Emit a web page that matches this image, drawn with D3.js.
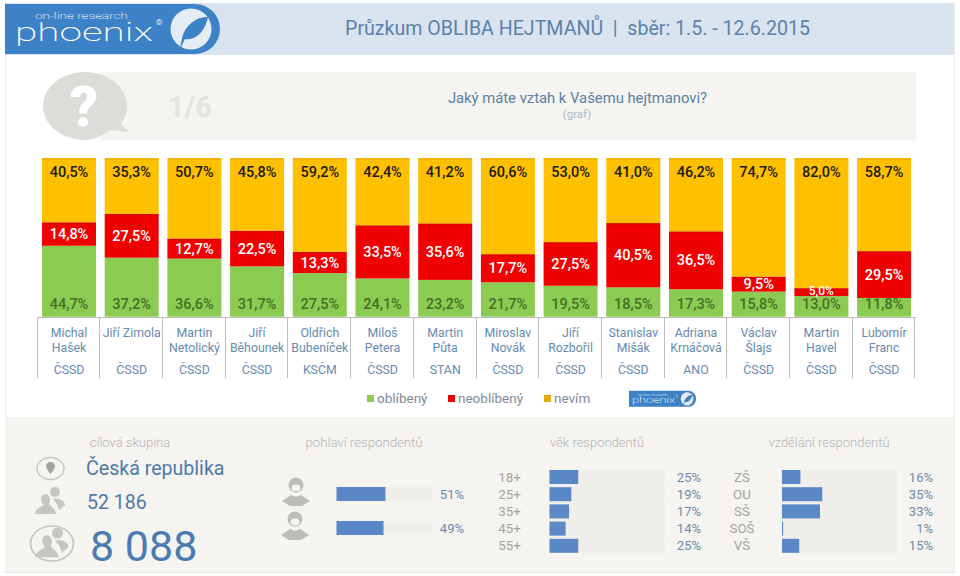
<!DOCTYPE html>
<html><head><meta charset="utf-8">
<script src="https://cdn.jsdelivr.net/npm/d3@7/dist/d3.min.js"></script>
<style>html,body{margin:0;padding:0;background:#fff}svg{display:block}text{font-family:Roboto,sans-serif}</style>
</head><body><svg id="c" width="960" height="576"></svg>
<script>
const names=[["Michal","Hašek"],["Jiří Zimola"],["Martin","Netolický"],["Jiří","Běhounek"],["Oldřich","Bubeníček"],["Miloš","Petera"],["Martin","Půta"],["Miroslav","Novák"],["Jiří","Rozbořil"],["Stanislav","Mišák"],["Adriana","Krnáčová"],["Václav","Šlajs"],["Martin","Havel"],["Lubomír","Franc"]];
const parties=["ČSSD","ČSSD","ČSSD","ČSSD","KSČM","ČSSD","STAN","ČSSD","ČSSD","ČSSD","ANO","ČSSD","ČSSD","ČSSD"];
const liked=[44.7,37.2,36.6,31.7,27.5,24.1,23.2,21.7,19.5,18.5,17.3,15.8,13.0,11.8];
const disliked=[14.8,27.5,12.7,22.5,13.3,33.5,35.6,17.7,27.5,40.5,36.5,9.5,5.0,29.5];
const unknown=[40.5,35.3,50.7,45.8,59.2,42.4,41.2,60.6,53.0,41.0,46.2,74.7,82.0,58.7];
const seriesKeys=["oblíbený","neoblíbený","nevím"];
const seriesColors=["#8ccb52","#f00000","#ffc000"];
const genderLabels=["51%","49%"],genderValues=[51,49];
const ageLabels=["18+","25+","35+","45+","55+"],ageValues=[25,19,17,14,25];
const eduLabels=["ZŠ","OU","SŠ","SOŠ","VŠ"],eduValues=[16,35,33,1,15];

const svg=d3.select("#c");
const rect=(x,y,w,h,f)=>svg.append("rect").attr("x",x).attr("y",y).attr("width",w).attr("height",h).attr("fill",f);
const text=(x,y,s,size,fill,anchor="start",weight=400)=>svg.append("text").attr("x",x).attr("y",y).attr("font-size",size).attr("fill",fill).attr("text-anchor",anchor).attr("font-weight",weight).text(s);

// page frame
rect(5,3,950,570,"#fff");
rect(5,3,1,570,"#eeeeea");rect(954,3,1,570,"#eeeeea");
rect(5,3,949,52,"#d9e4f0");
rect(5,417,949,155,"#f5f4f0");
rect(5,572,950,1,"#e4e3de");

// logo
function logo(k){
  const l=svg.append("g").attr("transform",k);
  l.append("path").attr("d","M0 1H190A25 25 0 0 1 190 51H0Z").attr("fill","#3d82c6");
  l.append("circle").attr("cx",186).attr("cy",26).attr("r",20.5).attr("fill","#e4ecf5");
  l.append("path").attr("d","M203 14C192 13 180 22 177 35L175 46L180 36C191 38 200 28 203 14Z").attr("fill","#3d82c6");
  l.append("text").attr("x",30).attr("y",16).attr("font-size",9).attr("fill","#fff").attr("font-family","DejaVu Sans").attr("font-weight",200).attr("textLength",93).attr("lengthAdjust","spacingAndGlyphs").text("on-line research");
  l.append("text").attr("x",10).attr("y",38).attr("font-size",26).attr("fill","#fff").attr("font-family","DejaVu Sans").attr("font-weight",200).attr("textLength",138).attr("lengthAdjust","spacingAndGlyphs").text("phoenix");
  l.append("text").attr("x",151).attr("y",22).attr("font-size",8).attr("fill","#fff").text("©");
}
logo("translate(5,3)");
text(577.5,35,"Průzkum OBLIBA HEJTMANŮ  |  sběr: 1.5. - 12.6.2015",19.6,"#5a82ad","middle").attr("xml:space","preserve");

// question band
rect(100,72,816,68,"#f5f4f0");
svg.append("path").attr("d","M85 72C108 72 127 87 127 106C127 113 124 119 121 124L129 132L110 130C103 135 95 140 85 140C62 140 43 125 43 106C43 87 62 72 85 72Z").attr("fill","#dcdcd9");
text(84,126,"?",56,"#fff","middle",900);
text(190,117,"1/6",29,"#e3e3df","middle",700);
text(577.5,103,"Jaký máte vztah k Vašemu hejtmanovi?",14.8,"#5a7fa8","middle");
text(577,118,"(graf)",11.5,"#a9b9cb","middle");

// stacked bars
const idx=d3.range(names.length);
const table=idx.map(i=>({i,[seriesKeys[0]]:liked[i],[seriesKeys[1]]:disliked[i],[seriesKeys[2]]:unknown[i]}));
const x=d3.scaleBand().domain(idx).range([37.64,915.44]).paddingInner(.139).paddingOuter(.0695);
const y=d3.scaleLinear().domain([0,100]).range([316.7,158]);
const color=d3.scaleOrdinal().domain(seriesKeys).range(seriesColors);
const stacked=d3.stack().keys(seriesKeys)(table);
const fmt=v=>d3.format(".1f")(v).replace(".",",")+"%";
svg.append("g").selectAll("g").data(stacked).join("g").attr("fill",s=>color(s.key))
 .selectAll("rect").data(s=>s).join("rect")
 .attr("x",d=>x(d.data.i)).attr("width",x.bandwidth())
 .attr("y",d=>y(d[1])).attr("height",d=>y(d[0])-y(d[1]));
// soft darker upper edge of the orange and red segments
svg.append("g").attr("fill","#000").attr("fill-opacity",.06).selectAll("g").data(stacked.slice(1)).join("g")
 .selectAll("rect").data(s=>s).join("rect")
 .attr("x",d=>x(d.data.i)).attr("width",x.bandwidth())
 .attr("y",d=>y(d[1])).attr("height",2);

const lab=svg.append("g").attr("text-anchor","middle").attr("font-weight",500);
const cx=i=>x(i)+x.bandwidth()/2;
lab.selectAll(".u").data(idx).join("text").attr("x",cx).attr("y",177.3).attr("font-size",14.5).attr("fill","#1c1a10").text(i=>fmt(unknown[i]));
lab.selectAll(".d").data(idx).join("text").attr("x",cx)
  .attr("y",i=>y(liked[i]+disliked[i]/2)+(disliked[i]<6?2.5:5.2))
  .attr("font-size",i=>disliked[i]<6?12:14.5).attr("fill","#fff").text(i=>fmt(disliked[i]));
lab.selectAll(".l").data(idx).join("text").attr("x",cx).attr("y",309.3).attr("font-size",14.5).attr("fill","#456f27").text(i=>fmt(liked[i]));

// category axis cells
const step=x.step();
const ax=svg.append("g").attr("stroke","#bdbdbd").attr("stroke-width",1);
ax.append("line").attr("x1",37).attr("x2",916).attr("y1",317.5).attr("y2",317.5);
ax.selectAll(".t").data(d3.range(15)).join("line")
  .attr("x1",i=>Math.round(37.64+i*step)-.5).attr("x2",i=>Math.round(37.64+i*step)-.5).attr("y1",317).attr("y2",378);
const cat=svg.append("g").attr("text-anchor","middle").attr("font-size",12.3).attr("fill","#678aaf");
idx.forEach(i=>{
  names[i].forEach((n,j)=>cat.append("text").attr("x",cx(i)).attr("y",337+j*14.7).text(n));
  cat.append("text").attr("x",cx(i)).attr("y",374).text(parties[i]);
});

// legend
const legX=[367,448,544],legTX=[377,458,554],legSq=["#8ccb52","#e60000","#e8a90c"];
seriesKeys.forEach((k,i)=>{
  rect(legX[i],395,7,7,legSq[i]);
  text(legTX[i],403,k,13.5,"#7f8c99");
});
logo("translate(629,390.5) scale(.312,.32)");

// bottom panel
text(130,447,"cílová skupina",13,"#b4b4b1","middle",300);
text(364,447,"pohlaví respondentů",13.2,"#b4b4b1","middle",300);
text(597,447,"věk respondentů",13,"#b4b4b1","middle",300);
text(829,447,"vzdělání respondentů",13,"#b4b4b1","middle",300);
text(86,475,"Česká republika",19.6,"#4f79a8");
text(87,509,"52 186",19.5,"#4f79a8");
text(90,561,"8 088",43,"#4a7bb3");

// icons
const ic="#c6c5c1";
svg.append("ellipse").attr("cx",50.5).attr("cy",468.5).attr("rx",13.5).attr("ry",11).attr("fill","none").attr("stroke",ic).attr("stroke-width",1.4);
svg.append("path").attr("d","M50.5 462C48 462 46 464 46 466C46 469 50.5 474 50.5 474C50.5 474 55 469 55 466C55 464 53 462 50.5 462Z").attr("fill","#a5a4a1");
function people(px,py,s){
  const g=svg.append("g").attr("transform",`translate(${px},${py}) scale(${s})`).attr("fill",ic);
  g.append("path").attr("d","M-15 12C-15 7 -10 5 -6 3C-10 0 -10 -7 -5 -8C0 -8 1 -2 -1 2C1 5 5 6 6 12Z");
  g.append("circle").attr("cx",5).attr("cy",-10).attr("r",5);
  g.append("path").attr("d","M3 -3C9 -5 15 -1 15 3L9 8L7 2Z");
}
people(50,502,1);
svg.append("ellipse").attr("cx",52).attr("cy",543.5).attr("rx",21.5).attr("ry",17.5).attr("fill","none").attr("stroke",ic).attr("stroke-width",1.7);
people(52,544,1.1);
function person(px,py){
  const g=svg.append("g").attr("transform",`translate(${px},${py})`).attr("fill","#bdbcb8");
  g.append("circle").attr("cx",0).attr("cy",-7).attr("r",7.5);
  g.append("ellipse").attr("cx",0).attr("cy",-4).attr("rx",4.5).attr("ry",3.5).attr("fill","#f5f4f0");
  g.append("path").attr("d","M-14 9L-5 3L0 5L5 3L14 9L6 14H-6Z");
}
person(296,492);person(295,526);

// horizontal bars
function bars(labels,values,valueLabels,x0,tw,y0,rowStep,h,valX,labelX){
  const sx=d3.scaleLinear().domain([0,100]).range([0,tw]);
  values.forEach((v,i)=>{
    const yy=y0+i*rowStep;
    rect(x0,yy,tw,h,"#f0eeea");
    rect(x0,yy,sx(v),h,"#5a87c5");
    text(valX,yy+h/2+4.6,valueLabels[i],13,"#6c8bab","end");
    if(labels) text(labelX,yy+h/2+4.6,labels[i],13.3,"#a3a3a0","middle");
  });
}
bars(null,genderValues,genderLabels,336.5,96,487,34,14,464,0);
rect(549.5,470,115,83,"#f0eeea");
rect(782,470,115,83,"#f0eeea");
bars(ageLabels,ageValues,ageValues.map(v=>v+"%"),549.5,115,470,17.2,14,701,509.5);
bars(eduLabels,eduValues,eduValues.map(v=>v+"%"),782,115,470,17.2,14,933,742);
</script></body></html>
